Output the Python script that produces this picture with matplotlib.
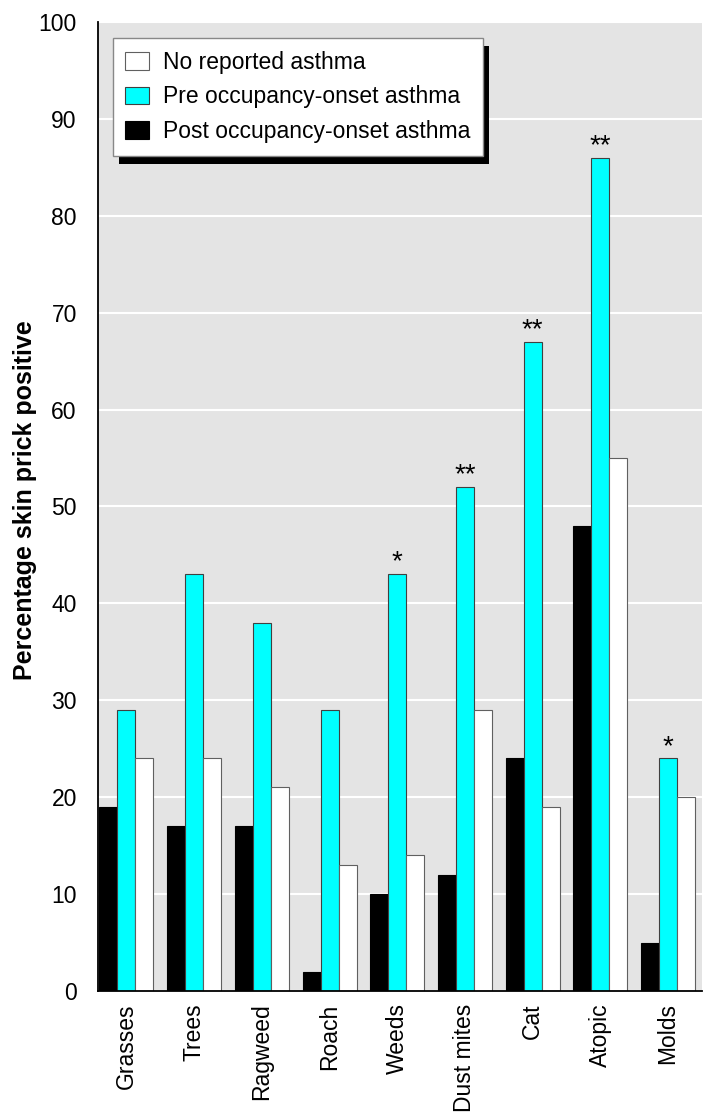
import numpy as np
import matplotlib
matplotlib.use("Agg")
import matplotlib.pyplot as plt
from matplotlib.patches import Rectangle

categories = ["Grasses", "Trees", "Ragweed", "Roach", "Weeds",
              "Dust mites", "Cat", "Atopic", "Molds"]
post_onset = [19, 17, 17, 2, 10, 12, 24, 48, 5]
pre_onset = [29, 43, 38, 29, 43, 52, 67, 86, 24]
no_asthma = [24, 24, 21, 13, 14, 29, 19, 55, 20]
signif = ["", "", "", "", "*", "**", "**", "**", "*"]
yticks = list(range(0, 101, 10))

plt.rcParams["font.family"] = ["Liberation Sans", "DejaVu Sans"]

fig = plt.figure(figsize=(7.13, 11.2), dpi=100)
ax = fig.add_axes([0.137, 0.1152, 0.847, 0.8652])
ax.set_facecolor("#e4e4e4")

x = np.arange(len(categories))
w = 0.266
b_post = ax.bar(x - w, post_onset, w, color="black", edgecolor="black", lw=0.8)
b_pre = ax.bar(x, pre_onset, w, color="#00ffff", edgecolor="#404040", lw=0.8)
b_no = ax.bar(x + w, no_asthma, w, color="white", edgecolor="#606060", lw=0.8)

for xi, v, s in zip(x, pre_onset, signif):
    if s:
        ax.annotate(s, (xi, v), xytext=(0, -1), textcoords="offset points",
                    ha="center", va="bottom", fontsize=20)

ax.set_xlim(-0.425, 8.496)
ax.set_ylim(0, 100)
ax.set_yticks(yticks)
ax.set_xticks(x)
ax.set_xticklabels(categories, rotation=90, fontsize=16.5)
ax.tick_params(axis="y", length=0, pad=15, labelsize=16.5)
ax.tick_params(axis="x", length=0, pad=9)
ax.set_axisbelow(True)
ax.yaxis.grid(True, color="white", lw=1.5)

for side in ["top", "right"]:
    ax.spines[side].set_visible(False)
for side in ["left", "bottom"]:
    ax.spines[side].set_linewidth(1.3)
    ax.spines[side].set_color("black")

ax.set_ylabel("Percentage skin prick positive", fontsize=18, fontweight="bold")
ax.yaxis.set_label_coords(-0.1, 0.507)

leg = ax.legend([b_no, b_pre, b_post],
                ["No reported asthma", "Pre occupancy-onset asthma",
                 "Post occupancy-onset asthma"],
                loc="upper left", bbox_to_anchor=(0.025, 0.983), borderaxespad=0,
                fontsize=16.5, fancybox=False, framealpha=1, edgecolor="#888888",
                handlelength=1.05, handleheight=0.8, handletextpad=0.6,
                labelspacing=0.5, borderpad=0.55)
leg.get_frame().set_linewidth(1.0)
leg.set_zorder(6)

# hard black drop shadow behind the legend box
fig.canvas.draw()
bb = leg.get_frame().get_window_extent(fig.canvas.get_renderer())
inv = ax.transAxes.inverted()
(x0, y0) = inv.transform((bb.x0 + 6, bb.y0 - 8))
(x1, y1) = inv.transform((bb.x1 + 6, bb.y1 - 8))
ax.add_patch(Rectangle((x0, y0), x1 - x0, y1 - y0, transform=ax.transAxes,
                       facecolor="black", edgecolor="none", zorder=5.5,
                       clip_on=False))

fig.savefig("out.png", dpi=100)
